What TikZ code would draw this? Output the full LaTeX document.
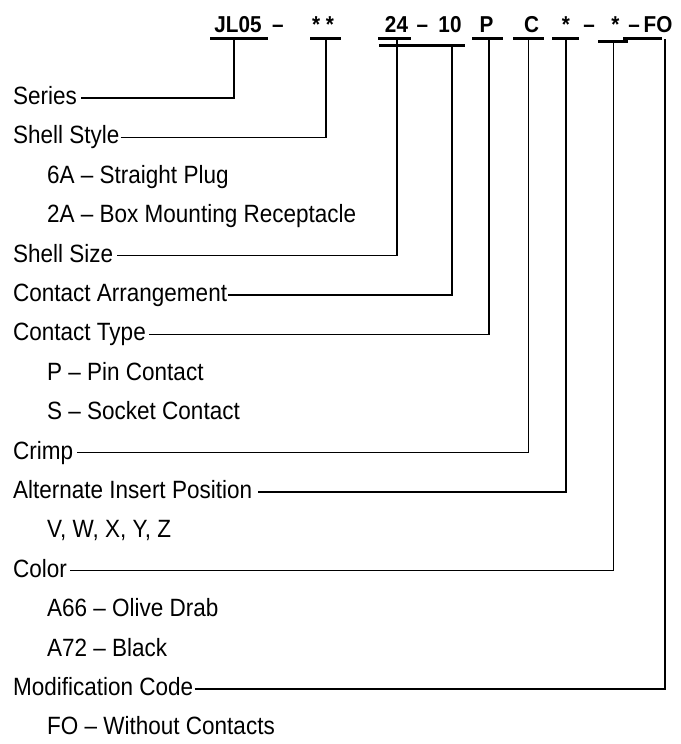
\documentclass[tikz,border=0pt]{standalone}
\usepackage{fontspec}
\setmainfont{Liberation Sans}[FakeStretch=0.9]
\begin{document}
\begin{tikzpicture}[x=1pt,y=-1pt,
  lbl/.style={anchor=west,inner sep=0pt,text height=13pt,text depth=0pt,font=\fontsize{25}{29}\selectfont},
  hdr/.style={anchor=base,inner sep=0pt,font=\fontsize{23}{27}\selectfont\bfseries},
  conn/.style={line width=1.2pt},
  bar/.style={line width=3pt}]
\useasboundingbox (0,0) rectangle (680,744);
% header
\node[hdr] (hJL) at (238,32) {JL05};
\node[hdr] (hd1) at (278,32) {--};
\node[hdr] (hSS) at (323,32) {* *};
\node[hdr] (h24) at (396.5,32) {24};
\node[hdr] (hd2) at (422.5,32) {--};
\node[hdr] (h10) at (450,32) {10};
\node[hdr] (hP) at (486.5,32) {P};
\node[hdr] (hC) at (531.5,32) {C};
\node[hdr] (hA1) at (566,32) {*};
\node[hdr] (hd3) at (589,32) {--};
\node[hdr] (hA2) at (615.5,32) {*};
\node[hdr] (hd4) at (634,32) {--};
\node[hdr] (hFO) at (658,32) {FO};
% underline bars
\draw[bar] (210,38) -- (268,38);
\draw[bar] (310,38) -- (341,38);
\draw[bar] (378,38) -- (411,38);
\draw[bar] (379,45) -- (465,45);
\draw[bar] (472,38) -- (503,38);
\draw[bar] (513,38) -- (544,38);
\draw[bar] (552,38) -- (579,38);
\draw[bar] (598,41) -- (628,41);
\draw[bar] (623,38) -- (662,38);
\coordinate (b1) at (234,38);
\coordinate (b2) at (326,38);
\coordinate (b3) at (397,38);
\coordinate (b4) at (452,45);
\coordinate (b5) at (489,38);
\coordinate (b6) at (528.5,38);
\coordinate (b7) at (566,38);
\coordinate (b8) at (613.5,41);
\coordinate (b9) at (665,39);
% labels
\node[lbl] (l0) at (13,98) {Series};
\node[lbl] (l1) at (13,137.4) {Shell Style};
\node[lbl] (s2) at (47,176.8) {6A -- Straight Plug};
\node[lbl] (s3) at (47,216.2) {2A -- Box Mounting Receptacle};
\node[lbl] (l4) at (13,255.6) {Shell Size};
\node[lbl] (l5) at (13,295) {Contact Arrangement};
\node[lbl] (l6) at (13,334.4) {Contact Type};
\node[lbl] (s7) at (47,373.8) {P -- Pin Contact};
\node[lbl] (s8) at (47,413.2) {S -- Socket Contact};
\node[lbl] (l9) at (13,452.6) {Crimp};
\node[lbl] (l10) at (13,492) {Alternate Insert Position};
\node[lbl] (s11) at (47,531.4) {V, W, X, Y, Z};
\node[lbl] (l12) at (13,570.8) {Color};
\node[lbl] (s13) at (47,610.2) {A66 -- Olive Drab};
\node[lbl] (s14) at (47,649.6) {A72 -- Black};
\node[lbl] (l15) at (13,689) {Modification Code};
\node[lbl] (s16) at (47,728.4) {FO -- Without Contacts};
% connectors
\draw[conn] ([xshift=4pt]l0.east) -| (b1);
\draw[conn] ([xshift=1pt]l1.east) -| (b2);
\draw[conn] ([xshift=4pt]l4.east) -| (b3);
\draw[conn] ([xshift=1pt]l5.east) -| (b4);
\draw[conn] ([xshift=3pt]l6.east) -| (b5);
\draw[conn] ([xshift=4pt]l9.east) -| (b6);
\draw[conn] ([xshift=6pt]l10.east) -| (b7);
\draw[conn] ([xshift=3pt]l12.east) -| (b8);
\draw[conn] ([xshift=1pt]l15.east) -| (b9);
\end{tikzpicture}
\end{document}
